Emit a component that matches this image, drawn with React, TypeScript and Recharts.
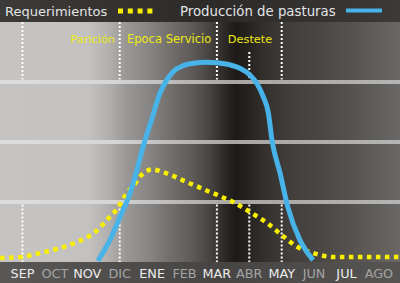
import React from 'react';
import { LineChart, Line, XAxis, YAxis, ReferenceLine } from 'recharts';

const months = ['SEP', 'OCT', 'NOV', 'DIC', 'ENE', 'FEB', 'MAR', 'ABR', 'MAY', 'JUN', 'JUL', 'AGO'];
const monthTicks = [0, 1, 2, 3, 4, 5, 6, 7, 8, 9, 10, 11];

// Producción de pasturas (month position, level)
const pastureMonth = [2.33, 2.7, 3.01, 3.32, 3.53, 3.72, 3.99, 4.24, 4.45, 4.65, 4.96, 5.27, 5.69, 5.99, 6.41, 6.71, 7.02, 7.23, 7.43, 7.59, 7.7, 7.95, 8.19, 8.56, 8.97];
const pastureLevel = [0.5, 9.2, 18.75, 28.75, 38.3, 48.0, 59.5, 70.3, 75.8, 79.3, 81.8, 82.8, 83.2, 83.0, 82.1, 80.7, 77.9, 74.5, 68.9, 62, 50.8, 37, 22.9, 9.2, 0.8];

// Requerimientos (month position, level)
const reqMonth = [-0.69, -0.02, 0.54, 1.16, 1.68, 2.24, 2.65, 2.85, 3.03, 3.19, 3.42, 3.73, 4.01, 4.3, 4.58, 4.86, 5.12, 5.41, 5.69, 5.96, 6.25, 6.5, 7.02, 7.55, 8.0, 8.49, 8.97, 9.58, 10.63, 11.65];
const reqLevel = [1.7, 2.1, 3.75, 5.8, 8.3, 12.5, 18.2, 21, 24.5, 28.2, 31.7, 37, 38.6, 37.6, 36.25, 34.6, 33, 31.4, 29.7, 28.3, 26.5, 25, 20.8, 16.25, 11.25, 6.25, 3.75, 2.1, 2.1, 2.1];

const gridLevels = [25, 50, 75];
const markerMonths = [0, 3, 6, 7, 8];
const markerTopStart = [100, 100, 100, 87.5, 100];

const pastureData = pastureMonth.map((m, i) => ({ m, v: pastureLevel[i] }));
const reqData = reqMonth.map((m, i) => ({ m, v: reqLevel[i] }));

const FONT = '"DejaVu Sans", Verdana, sans-serif';

const MonthTick = (props: any) => {
  const { x, y, payload } = props;
  const i = payload.value as number;
  return (
    <text x={x} y={y + 8} textAnchor="middle" fill={i % 2 === 0 ? '#ececec' : '#a4a4a4'} fontSize={12.8} fontFamily={FONT}>
      {months[i]}
    </text>
  );
};

export default function App() {
  return (
    <div style={{ position: 'relative', width: 400, height: 283, overflow: 'hidden', fontFamily: FONT }}>
      <style>{'body{margin:0}'}</style>
      <div style={{ position: 'absolute', left: 0, top: 0, width: 400, height: 22, background: 'linear-gradient(90deg,#3c3b39,#2c2a29 55%,#3b3a39)' }} />
      <div
        style={{
          position: 'absolute', left: 0, top: 22, width: 400, height: 240,
          background:
            'linear-gradient(90deg,#c5c4c2 0%,#c3c2c0 22%,#b2b1af 27%,#989694 32%,#888684 37%,#74716f 42%,#5e5a58 48%,#4a4644 52%,#2e2a28 56%,#1e1a18 59%,#262220 62%,#363230 67%,#433f3d 73%,#4a4644 80%,#55524f 88%,#6a6866 100%)',
        }}
      />
      <div style={{ position: 'absolute', left: 0, top: 262, width: 400, height: 21, background: 'linear-gradient(90deg,#5a5856,#474543 55%,#575553)' }} />
      <div style={{ position: 'absolute', left: 0, top: 0 }}>
        <LineChart width={400} height={283} margin={{ top: 22, right: 0, bottom: 0, left: 0 }}>
          <defs>
            <linearGradient id="band" x1="0" y1="0" x2="400" y2="0" gradientUnits="userSpaceOnUse">
              <stop offset="0%" stopColor="#dddddd" />
              <stop offset="28%" stopColor="#d6d6d6" />
              <stop offset="45%" stopColor="#b8b8b8" />
              <stop offset="58%" stopColor="#a8a6a4" />
              <stop offset="100%" stopColor="#b4b4b4" />
            </linearGradient>
          </defs>
          <XAxis
            type="number"
            dataKey="m"
            domain={[-0.694, 11.651]}
            ticks={monthTicks}
            interval={0}
            height={21}
            axisLine={false}
            tickLine={false}
            tick={<MonthTick />}
            allowDataOverflow
          />
          <YAxis hide type="number" domain={[0, 100]} allowDataOverflow />
          {gridLevels.map((v) => (
            <ReferenceLine key={'g' + v} y={v} stroke="url(#band)" strokeWidth={4} />
          ))}
          {markerMonths.map((m, i) => (
            <ReferenceLine key={'t' + m} segment={[{ x: m, y: markerTopStart[i] }, { x: m, y: 76 }]} stroke="#ffffff" strokeWidth={2} strokeDasharray="2 2" />
          ))}
          {markerMonths.map((m) => (
            <ReferenceLine key={'b' + m} segment={[{ x: m, y: 24 }, { x: m, y: 0 }]} stroke="#ffffff" strokeWidth={2} strokeDasharray="2 2" />
          ))}
          <Line data={reqData} dataKey="v" type="monotone" stroke="#f8f000" strokeWidth={4.5} strokeDasharray="4.5 4.5" dot={false} isAnimationActive={false} />
          <Line data={pastureData} dataKey="v" type="monotone" stroke="#48b3e8" strokeWidth={5} dot={false} isAnimationActive={false} />
        </LineChart>
      </div>
      <svg width={400} height={283} style={{ position: 'absolute', left: 0, top: 0, pointerEvents: 'none' }}>
        <text x={5} y={16} fill="#e4e4e4" fontSize={13} fontFamily={FONT}>Requerimientos</text>
        <line x1={118} y1={11} x2={153} y2={11} stroke="#f8f000" strokeWidth={5} strokeDasharray="5 4.8" />
        <text x={180} y={16} fill="#e4e4e4" fontSize={13.3} fontFamily={FONT}>Producción de pasturas</text>
        <line x1={346} y1={10.5} x2={382} y2={10.5} stroke="#48b3e8" strokeWidth={4} />
        <text x={115} y={43} textAnchor="end" fill="#eeea10" fontSize={11.3} fontFamily={FONT}>Parición</text>
        <text x={127} y={43} fill="#eeea10" fontSize={11.5} fontFamily={FONT}>Epoca Servicio</text>
        <text x={250} y={43} textAnchor="middle" fill="#eeea10" fontSize={11.3} fontFamily={FONT}>Destete</text>
      </svg>
    </div>
  );
}
